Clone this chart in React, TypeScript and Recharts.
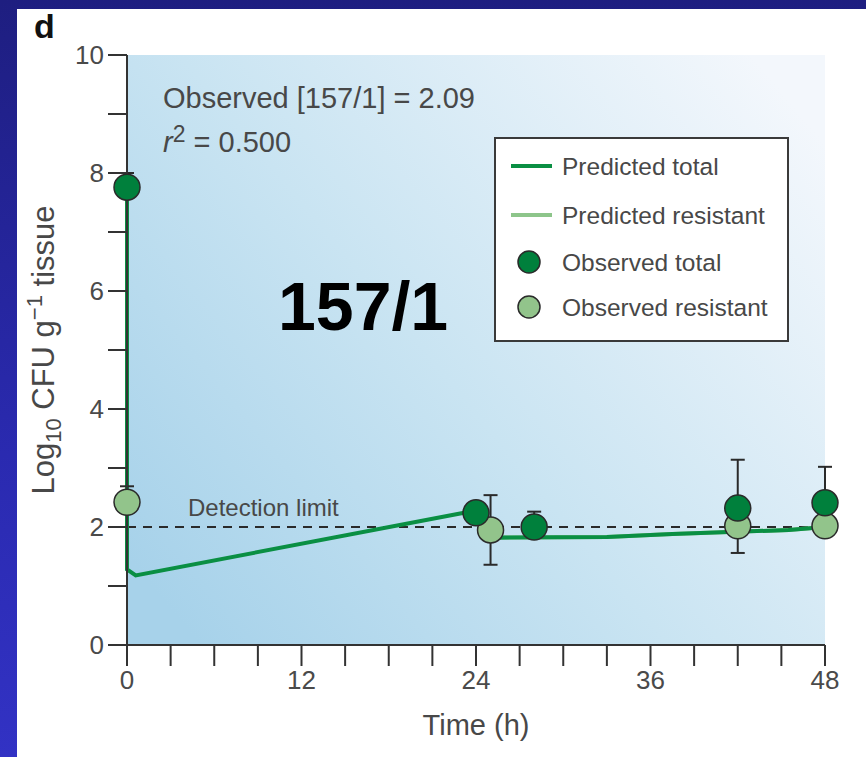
import React from 'react';
import {
  ComposedChart, Line, Scatter, XAxis, YAxis, ReferenceLine, ReferenceArea,
  ErrorBar, Legend, Label,
} from 'recharts';

// ---- data ----
const xTicks = [0, 3, 6, 9, 12, 15, 18, 21, 24, 27, 30, 33, 36, 39, 42, 45, 48];
const xLabelTicks = [0, 12, 24, 36, 48];
const yTicks = [0, 1, 2, 3, 4, 5, 6, 7, 8, 9, 10];
const yLabelTicks = [0, 2, 4, 6, 8, 10];

const predTotalTime = [0, 0, 0.6, 24, 25.5, 33, 37.5, 45.5, 48];
const predTotalValue = [7.8, 1.28, 1.18, 2.28, 1.82, 1.83, 1.88, 1.95, 2.0];

const predResTime = [25.5, 33, 37.5, 45.5, 48];
const predResValue = [1.82, 1.83, 1.88, 1.95, 2.0];

const obsTotalTime = [0, 24, 28, 42, 48];
const obsTotalValue = [7.76, 2.24, 2.0, 2.32, 2.41];
const obsTotalErr = [[0, 0.24], [0, 0], [0, 0.26], [0, 0.82], [0, 0.61]];

const obsResTime = [0, 25, 42, 48];
const obsResValue = [2.42, 1.95, 2.02, 2.02];
const obsResErr = [[0, 0.27], [0.59, 0.59], [0.46, 0], [0, 0]];

const detectionLimit = 2;

const predTotal = predTotalTime.map((t, i) => ({ t, v: predTotalValue[i] }));
const predRes = predResTime.map((t, i) => ({ t, v: predResValue[i] }));
const obsTotal = obsTotalTime.map((t, i) => ({ t, v: obsTotalValue[i], e: obsTotalErr[i] }));
const obsRes = obsResTime.map((t, i) => ({ t, v: obsResValue[i], e: obsResErr[i] }));

const DARK = '#00803c';
const LIGHT = '#92c48b';
const LINE = '#0a8f43';
const LINE_LIGHT = '#8dc58a';
const TEXT = '#484848';
const AXIS = '#333333';
const FONT = '"Liberation Sans", Arial, sans-serif';

const dotShape = (fill: string) => (props: any) => {
  const { cx, cy } = props;
  if (cx == null || cy == null) return <g />;
  return <circle cx={cx} cy={cy} r={13} fill={fill} stroke="#2a2a2a" strokeWidth={1.5} />;
};

const LegendBox = () => (
  <svg width={295} height={205} style={{ display: 'block' }}>
    <rect x={1} y={1} width={293} height={203} fill="#ffffff" stroke="#3a3a3a" strokeWidth={2} />
    <line x1={17} x2={58} y1={29} y2={29} stroke={LINE} strokeWidth={4} />
    <line x1={17} x2={58} y1={78} y2={78} stroke={LINE_LIGHT} strokeWidth={4} />
    <circle cx={35} cy={125} r={11} fill={DARK} stroke="#2a2a2a" strokeWidth={1.5} />
    <circle cx={35} cy={170} r={11} fill={LIGHT} stroke="#2a2a2a" strokeWidth={1.5} />
    <g fontFamily={FONT} fontSize={24.5} fill={TEXT}>
      <text x={68} y={38}>Predicted total</text>
      <text x={68} y={87}>Predicted resistant</text>
      <text x={68} y={134}>Observed total</text>
      <text x={68} y={179}>Observed resistant</text>
    </g>
  </svg>
);

const Annotations = () => (
  <svg width={866} height={757} style={{ position: 'absolute', left: 0, top: 0, pointerEvents: 'none' }}>
    <g fontFamily={FONT}>
      <text x={34} y={38} fontSize={34} fontWeight="bold" fill="#111">d</text>
      <text x={163} y={108} fontSize={29} fill={TEXT}>Observed [157/1] = 2.09</text>
      <text x={163} y={152} fontSize={29} fill={TEXT}>
        <tspan fontStyle="italic">r</tspan>
        <tspan fontSize={23} dy={-10}>2</tspan>
        <tspan dy={10}> = 0.500</tspan>
      </text>
      <text x={278} y={330} fontSize={68} fontWeight="bold" fill="#000">157/1</text>
    </g>
  </svg>
);

const YLabel = (props: any) => {
  const vb = props.viewBox || { x: 67, y: 55, width: 60, height: 590 };
  const cx = 54;
  const cy = vb.y + vb.height / 2;
  return (
    <text
      transform={`translate(${cx},${cy}) rotate(-90)`}
      textAnchor="middle"
      fontFamily={FONT}
      fontSize={31}
      fill={TEXT}
    >
      Log<tspan fontSize={22} dy={7}>10</tspan>
      <tspan dy={-7}> CFU g</tspan>
      <tspan fontSize={22} dy={-12}>−1</tspan>
      <tspan dy={12}> tissue</tspan>
    </text>
  );
};

const XLabel = (props: any) => {
  const vb = props.viewBox || { x: 127, y: 645, width: 698, height: 60 };
  return (
    <text x={vb.x + vb.width / 2} y={735} textAnchor="middle" fontFamily={FONT} fontSize={29} fill={TEXT}>
      Time (h)
    </text>
  );
};

const DetectionLabel = (props: any) => {
  const vb = props.viewBox || { x: 127, y: 527 };
  return (
    <text x={vb.x + 61} y={vb.y - 11} fontFamily={FONT} fontSize={24} fill={TEXT}>
      Detection limit
    </text>
  );
};

export default function App() {
  return (
    <div style={{ position: 'absolute', left: 0, top: 0, width: 866, height: 757, overflow: 'hidden' }}>
      <svg width={0} height={0} style={{ position: 'absolute' }}>
        <defs>
          <linearGradient id="plotBg" x1="0" y1="0.85" x2="1" y2="0.15">
            <stop offset="0" stopColor="#a7d2ea" />
            <stop offset="0.45" stopColor="#c9e4f2" />
            <stop offset="1" stopColor="#f3f7fc" />
          </linearGradient>
        </defs>
      </svg>
      <div style={{ position: 'absolute', left: 0, top: 0, width: 866, height: 757, background: 'linear-gradient(180deg, #1e1e80 0%, #2a2ab0 60%, #3232c4 100%)' }} />
      <div style={{ position: 'absolute', left: 17, top: 9, width: 849, height: 748, background: '#ffffff' }} />
      <div style={{ position: 'absolute', left: 0, top: 0 }}>
        <ComposedChart width={866} height={757} margin={{ top: 55, right: 41, bottom: 52, left: 67 }}>
          <XAxis
            dataKey="t"
            type="number"
            domain={[0, 48]}
            ticks={xTicks}
            interval={0}
            height={60}
            tickSize={21}
            tickMargin={5}
            axisLine={{ stroke: AXIS, strokeWidth: 2 }}
            tickLine={{ stroke: AXIS, strokeWidth: 2 }}
            tick={{ fill: '#4a4a4a', fontSize: 26, fontFamily: FONT }}
            tickFormatter={(v: number) => (xLabelTicks.includes(v) ? String(v) : '')}
          >
            <Label content={XLabel} />
          </XAxis>
          <YAxis
            type="number"
            domain={[0, 10]}
            ticks={yTicks}
            interval={0}
            width={60}
            tickSize={19}
            tickMargin={4}
            axisLine={{ stroke: AXIS, strokeWidth: 2 }}
            tickLine={{ stroke: AXIS, strokeWidth: 2 }}
            tick={{ fill: '#4a4a4a', fontSize: 26, fontFamily: FONT }}
            tickFormatter={(v: number) => (yLabelTicks.includes(v) ? String(v) : '')}
          >
            <Label content={YLabel} />
          </YAxis>
          <ReferenceArea x1={0} x2={48} y1={0} y2={10} fill="url(#plotBg)" fillOpacity={1} stroke="none" ifOverflow="visible" />
          <ReferenceLine
            y={detectionLimit}
            stroke="#2a2a2a"
            strokeWidth={2}
            strokeDasharray="9 7"
            label={<DetectionLabel />}
          />
          <Line
            data={predRes}
            dataKey="v"
            type="linear"
            stroke={LINE_LIGHT}
            strokeWidth={4}
            dot={false}
            isAnimationActive={false}
          />
          <Line
            data={predTotal}
            dataKey="v"
            type="linear"
            stroke={LINE}
            strokeWidth={4}
            dot={false}
            isAnimationActive={false}
          />
          <Scatter data={obsRes} dataKey="v" shape={dotShape(LIGHT)} isAnimationActive={false}>
            <ErrorBar dataKey="e" direction="y" width={7} stroke="#2a2a2a" strokeWidth={2} />
          </Scatter>
          <Scatter data={obsTotal} dataKey="v" shape={dotShape(DARK)} isAnimationActive={false}>
            <ErrorBar dataKey="e" direction="y" width={7} stroke="#2a2a2a" strokeWidth={2} />
          </Scatter>
          <Legend
            layout="horizontal"
            verticalAlign="middle"
            align="center"
            content={() => <LegendBox />}
            wrapperStyle={{ position: 'absolute', left: 494, top: 137, width: 295, height: 205 }}
          />
        </ComposedChart>
      </div>
      <Annotations />
    </div>
  );
}
